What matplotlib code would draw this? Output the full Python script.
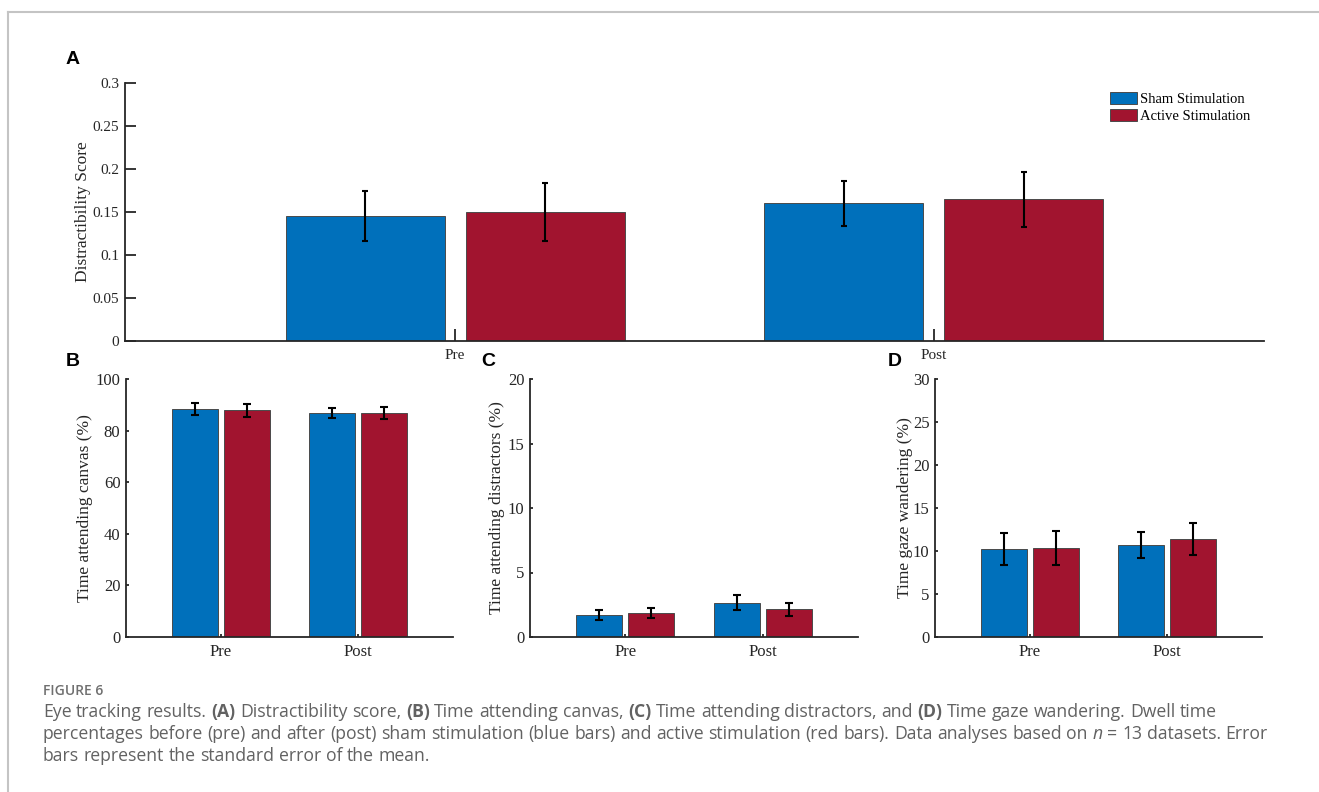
import matplotlib
matplotlib.use('Agg')
import matplotlib.pyplot as plt
import numpy as np
from matplotlib.lines import Line2D

# ---------------- data ----------------
groups = ['Pre', 'Post']
series = ['Sham Stimulation', 'Active Stimulation']
colors = ['#0070BB', '#A1142F']

distract_sham = [0.145, 0.160]
distract_sham_err = [0.029, 0.026]
distract_active = [0.150, 0.165]
distract_active_err = [0.034, 0.032]

canvas_sham = [88.3, 86.9]
canvas_sham_err = [2.3, 2.0]
canvas_active = [87.9, 86.8]
canvas_active_err = [2.5, 2.4]

distr_sham = [1.71, 2.66]
distr_sham_err = [0.40, 0.60]
distr_active = [1.86, 2.14]
distr_active_err = [0.42, 0.53]

wander_sham = [10.27, 10.70]
wander_sham_err = [1.84, 1.50]
wander_active = [10.35, 11.36]
wander_active_err = [2.00, 1.84]

yticks_A = [0, 0.05, 0.1, 0.15, 0.2, 0.25, 0.3]
yticklabels_A = ['0', '0.05', '0.1', '0.15', '0.2', '0.25', '0.3']
yticks_B = [0, 20, 40, 60, 80, 100]
yticks_C = [0, 5, 10, 15, 20]
yticks_D = [0, 5, 10, 15, 20, 25, 30]

ylabels = ['Distractibility Score', 'Time attending canvas (%)',
           'Time attending distractors (%)', 'Time gaze wandering (%)']

# ---------------- layout ----------------
W, H = 1319, 792
fig = plt.figure(figsize=(W / 100, H / 100), dpi=100)
SERIF = 'Liberation Serif'
AX_COLOR = '#262626'


def fx(px):
    return px / W


def fy(py):
    return 1 - py / H


def make_ax(left, right, top, bottom):
    return fig.add_axes([fx(left), fy(bottom), fx(right) - fx(left), fy(top) - fy(bottom)])


def draw_panel(ax, sham, sham_err, active, active_err, ylim, yticks, yticklabels,
               ylabel, ylab_x, ticklen_y, ticklen_x, capsize, tsize):
    x = np.arange(1, len(groups) + 1)
    width = 0.333
    off = 0.188
    ax.bar(x - off, sham, width, color=colors[0], edgecolor='#4a4a4a', linewidth=0.7,
           label=series[0], zorder=2)
    ax.bar(x + off, active, width, color=colors[1], edgecolor='#4a4a4a', linewidth=0.7,
           label=series[1], zorder=2)
    ax.errorbar(x - off, sham, yerr=sham_err, fmt='none', ecolor='black',
                elinewidth=1.5, capsize=capsize, capthick=1.5, zorder=3)
    ax.errorbar(x + off, active, yerr=active_err, fmt='none', ecolor='black',
                elinewidth=1.5, capsize=capsize, capthick=1.5, zorder=3)
    ax.set_xlim(0.31, 2.69)
    ax.set_ylim(*ylim)
    ax.set_xticks(x)
    ax.set_xticklabels(groups, fontsize=tsize, family=SERIF)
    ax.set_yticks(yticks)
    ax.set_yticklabels(yticklabels, fontsize=tsize, family=SERIF)
    for s in ['top', 'right']:
        ax.spines[s].set_visible(False)
    for s in ['left', 'bottom']:
        ax.spines[s].set_linewidth(1.3)
        ax.spines[s].set_color(AX_COLOR)
    ax.tick_params(axis='y', direction='in', length=ticklen_y, width=1.3, color=AX_COLOR,
                   pad=4, labelcolor='#262626')
    ax.tick_params(axis='x', direction='in', length=ticklen_x, width=1.3, color=AX_COLOR,
                   pad=5, labelcolor='#262626')
    ax.set_ylabel(ylabel, fontsize=12.5, family=SERIF, color='#262626')
    ax.yaxis.set_label_coords(ylab_x, 0.5)
    ax.patch.set_alpha(0)


# Panel A
axA = make_ax(125, 1264, 83, 341)
draw_panel(axA, distract_sham, distract_sham_err, distract_active, distract_active_err,
           (0, 0.3), yticks_A, yticklabels_A, ylabels[0], -0.030, 8, 9, 2.3, 11)
axA.tick_params(axis='x', pad=6)
leg = axA.legend(loc='upper left', bbox_to_anchor=(0.865, 0.965), frameon=False,
                 prop={'family': SERIF, 'size': 10.5}, handlelength=1.85,
                 handleheight=0.9, handletextpad=0.2, labelspacing=0.22,
                 borderpad=0, borderaxespad=0)

# Panel B
axB = make_ax(126, 453, 379, 637)
draw_panel(axB, canvas_sham, canvas_sham_err, canvas_active, canvas_active_err,
           (0, 100), yticks_B, [str(v) for v in yticks_B], ylabels[1], -0.102, 2.5, 2.5, 2.9, 12)

# Panel C
axC = make_ax(530, 858, 379, 637)
draw_panel(axC, distr_sham, distr_sham_err, distr_active, distr_active_err,
           (0, 20), yticks_C, [str(v) for v in yticks_C], ylabels[2], -0.076, 2.5, 2.5, 2.9, 12)

# Panel D
axD = make_ax(935, 1262, 379, 637)
draw_panel(axD, wander_sham, wander_sham_err, wander_active, wander_active_err,
           (0, 30), yticks_D, [str(v) for v in yticks_D], ylabels[3], -0.068, 2.5, 2.5, 2.9, 12)

# Panel letters
for letter, (px, py) in zip(['A', 'B', 'C', 'D'], [(73, 59), (73, 362), (488, 362), (895, 362)]):
    fig.text(fx(px), fy(py), letter, fontsize=14, fontweight='bold', family='Liberation Sans',
             ha='center', va='center', color='black')

# Frame lines
fig.add_artist(Line2D([fx(8), fx(8)], [fy(12), 0], color='#c4c4c4', linewidth=1.5,
                      transform=fig.transFigure))
fig.add_artist(Line2D([fx(8), 1], [fy(12), fy(12)], color='#c4c4c4', linewidth=1.5,
                      transform=fig.transFigure))

# Caption
CAP_FAM = 'Open Sans'
CAP_COLOR = '#626262'
fig.text(fx(43), fy(691), 'FIGURE 6', fontsize=10, fontweight='semibold', family=CAP_FAM,
         color='#707070', ha='left', va='center')

R, B_, I = ('normal', 'normal'), ('bold', 'normal'), ('normal', 'italic')


def words(text, style=R):
    return [(w, style[0], style[1]) for w in text.split()]


line1 = (words('Eye tracking results.') + words('(A)', B_) + words('Distractibility score,') +
         words('(B)', B_) + words('Time attending canvas,') + words('(C)', B_) +
         words('Time attending distractors, and') + words('(D)', B_) +
         words('Time gaze wandering. Dwell time'))
line2 = (words('percentages before (pre) and after (post) sham stimulation (blue bars) and '
               'active stimulation (red bars). Data analyses based on') + words('n', I) +
         words('= 13 datasets. Error'))
line3 = words('bars represent the standard error of the mean.')

renderer = fig.canvas.get_renderer()
CAP_SIZE = 12.7


def text_width(s, weight='normal', style='normal'):
    t = fig.text(0, 0, s, fontsize=CAP_SIZE, family=CAP_FAM, fontweight=weight, fontstyle=style)
    w = t.get_window_extent(renderer).width
    t.remove()
    return w


space_w = text_width('a a') - text_width('aa')

for line, py in [(line1, 712), (line2, 734), (line3, 756)]:
    x = 43
    for w, weight, style in line:
        t = fig.text(fx(x), fy(py), w, fontsize=CAP_SIZE, family=CAP_FAM, fontweight=weight,
                     fontstyle=style, color=CAP_COLOR, ha='left', va='center')
        x += t.get_window_extent(renderer).width + space_w

fig.savefig('out.png', dpi=100, facecolor='white')
